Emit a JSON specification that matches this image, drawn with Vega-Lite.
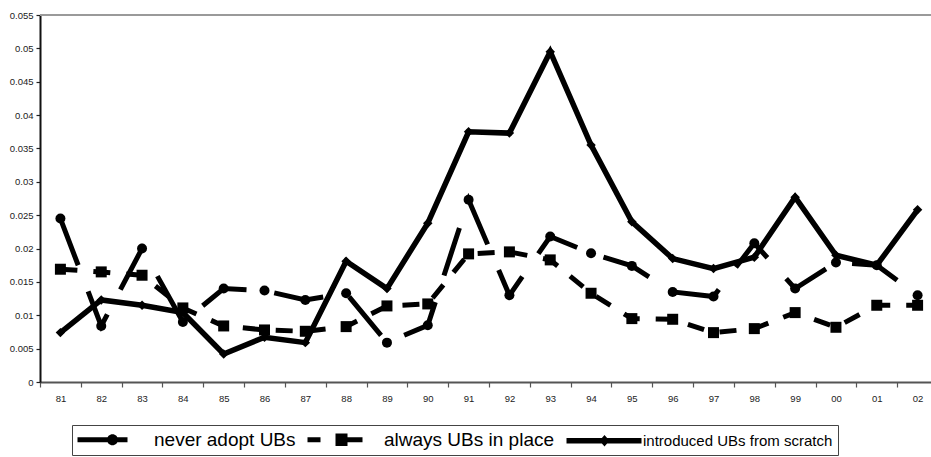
{
  "$schema": "https://vega.github.io/schema/vega-lite/v6.json",
  "autosize": {"type": "none"},
  "padding": {"left": 40, "top": 15, "right": 0, "bottom": 75},
  "width": 891,
  "height": 367,
  "background": "white",
  "config": {
    "font": "Liberation Sans",
    "view": {"stroke": null},
    "axis": {"grid": false, "title": null, "labelFont": "Liberation Sans", "labelFontSize": 9.5, "labelColor": "#222"}
  },
  "datasets": {
    "rates": [
      {"year": 1981, "series": "never adopt UBs", "value": 0.0245},
      {"year": 1982, "series": "never adopt UBs", "value": 0.0084},
      {"year": 1983, "series": "never adopt UBs", "value": 0.0200},
      {"year": 1984, "series": "never adopt UBs", "value": 0.0090},
      {"year": 1985, "series": "never adopt UBs", "value": 0.0140},
      {"year": 1986, "series": "never adopt UBs", "value": 0.0137},
      {"year": 1987, "series": "never adopt UBs", "value": 0.0123},
      {"year": 1988, "series": "never adopt UBs", "value": 0.0133},
      {"year": 1989, "series": "never adopt UBs", "value": 0.0059},
      {"year": 1990, "series": "never adopt UBs", "value": 0.0085},
      {"year": 1991, "series": "never adopt UBs", "value": 0.0273},
      {"year": 1992, "series": "never adopt UBs", "value": 0.0130},
      {"year": 1993, "series": "never adopt UBs", "value": 0.0218},
      {"year": 1994, "series": "never adopt UBs", "value": 0.0193},
      {"year": 1995, "series": "never adopt UBs", "value": 0.0174},
      {"year": 1996, "series": "never adopt UBs", "value": 0.0135},
      {"year": 1997, "series": "never adopt UBs", "value": 0.0128},
      {"year": 1998, "series": "never adopt UBs", "value": 0.0208},
      {"year": 1999, "series": "never adopt UBs", "value": 0.0140},
      {"year": 2000, "series": "never adopt UBs", "value": 0.0179},
      {"year": 2001, "series": "never adopt UBs", "value": 0.0175},
      {"year": 2002, "series": "never adopt UBs", "value": 0.0130},
      {"year": 1981, "series": "always UBs in place", "value": 0.0169},
      {"year": 1982, "series": "always UBs in place", "value": 0.0165},
      {"year": 1983, "series": "always UBs in place", "value": 0.0160},
      {"year": 1984, "series": "always UBs in place", "value": 0.0111},
      {"year": 1985, "series": "always UBs in place", "value": 0.0084},
      {"year": 1986, "series": "always UBs in place", "value": 0.0078},
      {"year": 1987, "series": "always UBs in place", "value": 0.0076},
      {"year": 1988, "series": "always UBs in place", "value": 0.0083},
      {"year": 1989, "series": "always UBs in place", "value": 0.0114},
      {"year": 1990, "series": "always UBs in place", "value": 0.0117},
      {"year": 1991, "series": "always UBs in place", "value": 0.0192},
      {"year": 1992, "series": "always UBs in place", "value": 0.0195},
      {"year": 1993, "series": "always UBs in place", "value": 0.0183},
      {"year": 1994, "series": "always UBs in place", "value": 0.0133},
      {"year": 1995, "series": "always UBs in place", "value": 0.0095},
      {"year": 1996, "series": "always UBs in place", "value": 0.0094},
      {"year": 1997, "series": "always UBs in place", "value": 0.0074},
      {"year": 1998, "series": "always UBs in place", "value": 0.0080},
      {"year": 1999, "series": "always UBs in place", "value": 0.0104},
      {"year": 2000, "series": "always UBs in place", "value": 0.0082},
      {"year": 2001, "series": "always UBs in place", "value": 0.0115},
      {"year": 2002, "series": "always UBs in place", "value": 0.0115},
      {"year": 1981, "series": "introduced UBs from scratch", "value": 0.0074},
      {"year": 1982, "series": "introduced UBs from scratch", "value": 0.0123},
      {"year": 1983, "series": "introduced UBs from scratch", "value": 0.0115},
      {"year": 1984, "series": "introduced UBs from scratch", "value": 0.0104},
      {"year": 1985, "series": "introduced UBs from scratch", "value": 0.0042},
      {"year": 1986, "series": "introduced UBs from scratch", "value": 0.0067},
      {"year": 1987, "series": "introduced UBs from scratch", "value": 0.0059},
      {"year": 1988, "series": "introduced UBs from scratch", "value": 0.0181},
      {"year": 1989, "series": "introduced UBs from scratch", "value": 0.0140},
      {"year": 1990, "series": "introduced UBs from scratch", "value": 0.0238},
      {"year": 1991, "series": "introduced UBs from scratch", "value": 0.0375},
      {"year": 1992, "series": "introduced UBs from scratch", "value": 0.0373},
      {"year": 1993, "series": "introduced UBs from scratch", "value": 0.0495},
      {"year": 1994, "series": "introduced UBs from scratch", "value": 0.0355},
      {"year": 1995, "series": "introduced UBs from scratch", "value": 0.0240},
      {"year": 1996, "series": "introduced UBs from scratch", "value": 0.0185},
      {"year": 1997, "series": "introduced UBs from scratch", "value": 0.0170},
      {"year": 1998, "series": "introduced UBs from scratch", "value": 0.0187},
      {"year": 1999, "series": "introduced UBs from scratch", "value": 0.0277},
      {"year": 2000, "series": "introduced UBs from scratch", "value": 0.0190},
      {"year": 2001, "series": "introduced UBs from scratch", "value": 0.0175},
      {"year": 2002, "series": "introduced UBs from scratch", "value": 0.0258}
    ],
    "topline": [{"value": 0.055}]
  },
  "encoding": {
    "y": {
      "field": "value",
      "type": "quantitative",
      "scale": {"domain": [0, 0.055], "nice": false},
      "axis": {
        "values": [0, 0.005, 0.01, 0.015, 0.02, 0.025, 0.03, 0.035, 0.04, 0.045, 0.05, 0.055],
        "format": "~g",
        "tickSize": 4,
        "tickWidth": 1.2,
        "tickColor": "#222",
        "domainColor": "#111",
        "domainWidth": 2,
        "labelPadding": 3
      }
    }
  },
  "layer": [
    {
      "data": {"name": "topline"},
      "mark": {"type": "rule", "color": "#9a9a9a", "strokeWidth": 2},
      "encoding": {}
    },
    {
      "data": {"name": "rates"},
      "transform": [{"filter": "datum.series == 'never adopt UBs'"}],
      "mark": {"type": "line", "color": "black", "strokeWidth": 5, "strokeCap": "butt", "strokeJoin": "miter", "strokeDash": [50, 28]},
      "encoding": {
        "x": {
          "field": "year",
          "type": "ordinal",
          "scale": {"type": "band", "paddingInner": 0, "paddingOuter": 0, "range": [0, 898]},
          "axis": {
            "tickBand": "extent",
            "labelAngle": 0,
            "labelPadding": 6,
            "tickSize": 5,
            "tickWidth": 1.2,
            "tickColor": "#555",
            "domainColor": "#555",
            "domainWidth": 2,
            "labelExpr": "substring(datum.label, 2)"
          }
        }
      }
    },
    {
      "data": {"name": "rates"},
      "transform": [{"filter": "datum.series == 'always UBs in place'"}],
      "mark": {"type": "line", "color": "black", "strokeWidth": 5, "strokeCap": "butt", "strokeJoin": "miter", "strokeDash": [17, 16]},
      "encoding": {"x": {"field": "year", "type": "ordinal"}}
    },
    {
      "data": {"name": "rates"},
      "transform": [{"filter": "datum.series == 'introduced UBs from scratch'"}],
      "mark": {"type": "line", "color": "black", "strokeWidth": 5.5, "strokeCap": "butt", "strokeJoin": "miter"},
      "encoding": {"x": {"field": "year", "type": "ordinal"}}
    },
    {
      "data": {"name": "rates"},
      "transform": [{"filter": "datum.series == 'never adopt UBs'"}],
      "mark": {"type": "point", "shape": "circle", "filled": true, "color": "black", "opacity": 1, "size": 100},
      "encoding": {"x": {"field": "year", "type": "ordinal"}}
    },
    {
      "data": {"name": "rates"},
      "transform": [{"filter": "datum.series == 'always UBs in place'"}],
      "mark": {"type": "point", "shape": "square", "filled": true, "color": "black", "opacity": 1, "size": 121},
      "encoding": {"x": {"field": "year", "type": "ordinal"}}
    },
    {
      "data": {"name": "rates"},
      "transform": [{"filter": "datum.series == 'introduced UBs from scratch'"}],
      "mark": {"type": "point", "shape": "diamond", "filled": true, "color": "black", "opacity": 1, "size": 90},
      "encoding": {"x": {"field": "year", "type": "ordinal"}}
    },
    {
      "data": {"values": []},
      "mark": {"type": "point", "filled": true, "color": "black", "opacity": 1},
      "encoding": {
        "shape": {
          "field": "series",
          "type": "nominal",
          "scale": {
            "domain": ["never adopt UBs", "always UBs in place", "introduced UBs from scratch"],
            "range": [
              "M-1.8,-0.5L8.2,-0.5L8.2,0.5L-1.8,0.5Z M6.3,0A1.1,1.1,0,1,1,4.1,0A1.1,1.1,0,1,1,6.3,0Z",
              "M-1.8,-0.5L0.8,-0.5L0.8,0.5L-1.8,0.5Z M3.8,-1.25L6.2,-1.25L6.2,1.25L3.8,1.25Z M6.2,-0.5L9.2,-0.5L9.2,0.5L6.2,0.5Z",
              "M-1.8,-0.55L13.2,-0.55L13.2,0.55L-1.8,0.55Z M5.8,-1.15L6.8,0L5.8,1.15L4.8,0Z"
            ]
          },
          "legend": {
            "title": null,
            "orient": "none",
            "legendX": 32,
            "legendY": 410,
            "direction": "horizontal",
            "symbolSize": 100,
            "symbolStrokeWidth": 0,
            "symbolFillColor": "black",
            "symbolOpacity": 1,
            "labelOffset": 58,
            "columnPadding": 11,
            "padding": 5,
            "strokeColor": "#444",
            "fillColor": "white",
            "labelFont": "Liberation Sans",
            "labelFontSize": {"expr": "datum.label == 'introduced UBs from scratch' ? 15 : 19"},
            "labelColor": "black",
            "labelLimit": 400
          }
        }
      }
    }
  ]
}
